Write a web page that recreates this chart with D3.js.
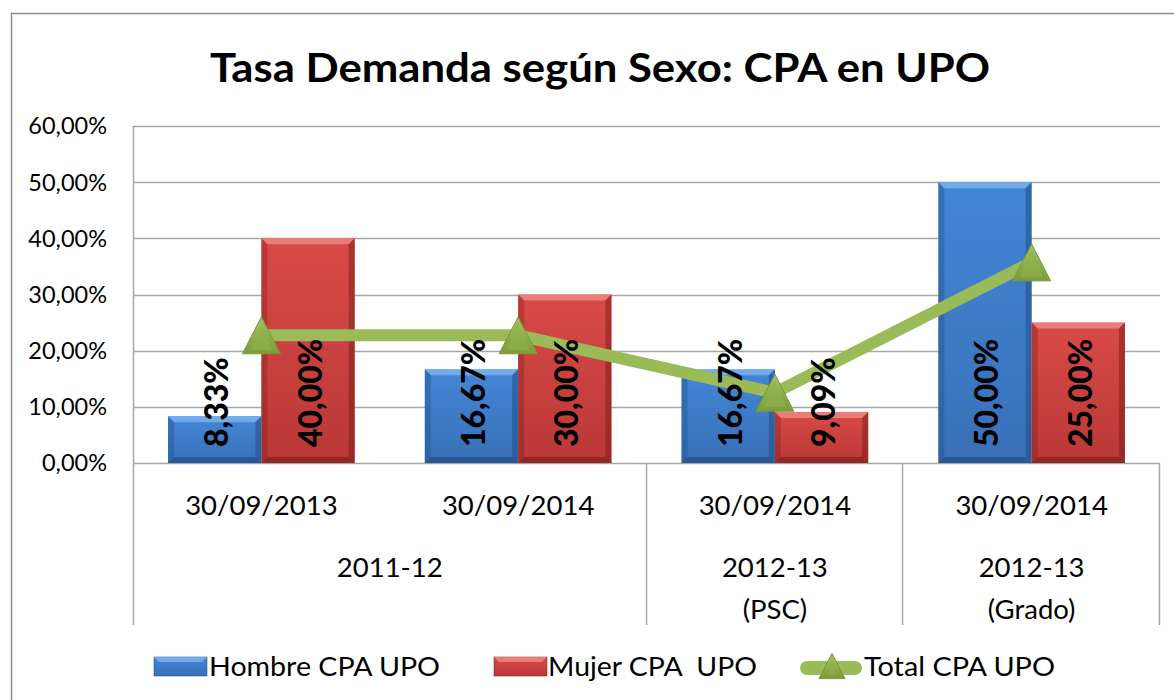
<!DOCTYPE html>
<html>
<head>
<meta charset="utf-8">
<script src="https://cdn.jsdelivr.net/npm/d3@7"></script>
<style>
  body { margin: 0; background: #fff; }
  svg text { font-family: Lato, "Open Sans", sans-serif; fill: #000; }
</style>
</head>
<body>
<div id="chart"></div>
<script>
// data
var dates = ["30/09/2013", "30/09/2014", "30/09/2014", "30/09/2014"];
var years = [
  {label: ["2011-12"], from: 0, to: 1},
  {label: ["2012-13", "(PSC)"], from: 2, to: 2},
  {label: ["2012-13", "(Grado)"], from: 3, to: 3}
];
var hombre = [0.0833, 0.1667, 0.1667, 0.50];
var mujer  = [0.40, 0.30, 0.0909, 0.25];
var total  = [0.2273, 0.2273, 0.125, 0.3571];
var yTicks = [0, 0.1, 0.2, 0.3, 0.4, 0.5, 0.6];
var seriesNames = ["Hombre CPA UPO", "Mujer CPA  UPO", "Total CPA UPO"];

var width = 1174, height = 700;
var margin = {top: 126, right: 14, bottom: 237, left: 133};

var svg = d3.select("#chart").append("svg")
    .attr("width", width)
    .attr("height", height);

var defs = svg.append("defs");
function grad(id, c1, c2) {
  var g = defs.append("linearGradient").attr("id", id)
      .attr("x1", 0).attr("y1", 0).attr("x2", 0).attr("y2", 1);
  g.append("stop").attr("offset", "0%").attr("stop-color", c1);
  g.append("stop").attr("offset", "100%").attr("stop-color", c2);
}
grad("gBlue", "#4386d6", "#3870b8");
grad("gRed", "#d94a47", "#b93836");
grad("gGreen", "#a3c462", "#7c9c3c");

// outer chart border
svg.append("path")
    .attr("d", "M11.5," + height + "V13.5H" + width)
    .attr("fill", "none")
    .attr("stroke", "#8c8c8c")
    .attr("stroke-width", 1.5);

// title
svg.append("text")
    .attr("x", 600).attr("y", 82)
    .attr("text-anchor", "middle")
    .style("font-size", "40px")
    .style("font-weight", "bold")
    .attr("textLength", 780)
    .attr("lengthAdjust", "spacingAndGlyphs")
    .text("Tasa Demanda según Sexo: CPA en UPO");

var x0 = d3.scaleBand()
    .domain(d3.range(dates.length))
    .range([margin.left, width - margin.right])
    .paddingInner(0.273)
    .paddingOuter(0.1365);

var x1 = d3.scaleBand()
    .domain([0, 1])
    .range([0, x0.bandwidth()]);

var y = d3.scaleLinear()
    .domain([0, 0.6])
    .range([height - margin.bottom, margin.top]);

var fmt = function(v) { return d3.format(".2f")(v * 100).replace(".", ",") + "%"; };

var plotL = margin.left, plotR = width - margin.right;
var step = x0.step();
var catBottom = 625;

// gridlines
svg.append("g").selectAll("line")
    .data(yTicks)
  .enter().append("line")
    .attr("x1", plotL).attr("x2", plotR)
    .attr("y1", function(d) { return Math.round(y(d)) + 0.5; })
    .attr("y2", function(d) { return Math.round(y(d)) + 0.5; })
    .attr("stroke", "#a6a6a6")
    .attr("stroke-width", 1.5);

// y tick labels
svg.append("g").selectAll("text")
    .data(yTicks)
  .enter().append("text")
    .attr("x", 107)
    .attr("y", function(d) { return y(d); })
    .attr("dy", "0.36em")
    .attr("text-anchor", "end")
    .style("font-size", "23.5px")
    .text(fmt);

// left axis + category separators
var seps = [0].concat(years.map(function(d) { return d.to + 1; }));
svg.append("line")
    .attr("x1", plotL + 0.5).attr("x2", plotL + 0.5)
    .attr("y1", y(0.6)).attr("y2", catBottom)
    .attr("stroke", "#a6a6a6").attr("stroke-width", 1.5);
svg.append("g").selectAll("line")
    .data(seps.slice(1))
  .enter().append("line")
    .attr("x1", function(d) { return Math.round(plotL + d * step) - 0.5; })
    .attr("x2", function(d) { return Math.round(plotL + d * step) - 0.5; })
    .attr("y1", y(0)).attr("y2", catBottom)
    .attr("stroke", "#a6a6a6").attr("stroke-width", 1.5);

// bars with bevel
var bev = 6;
function bevelBar(g, bx, bw, v, fillId, light, dark) {
  var xa = bx, xb = bx + bw, ya = y(v), yb = y(0);
  var b = Math.min(bev, (yb - ya) / 2);
  g.append("rect").attr("x", xa).attr("y", ya).attr("width", bw).attr("height", yb - ya)
      .attr("fill", "url(#" + fillId + ")");
  g.append("path").attr("fill", light).attr("opacity", 0.8)
      .attr("d", "M" + xa + "," + ya + "H" + xb + "L" + (xb - b) + "," + (ya + b) + "H" + (xa + b) + "Z");
  g.append("path").attr("fill", dark).attr("opacity", 0.35)
      .attr("d", "M" + xa + "," + ya + "L" + (xa + b) + "," + (ya + b) + "V" + (yb - b) + "L" + xa + "," + yb + "Z");
  g.append("path").attr("fill", dark).attr("opacity", 0.5)
      .attr("d", "M" + xb + "," + ya + "L" + (xb - b) + "," + (ya + b) + "V" + (yb - b) + "L" + xb + "," + yb + "Z");
  g.append("path").attr("fill", dark).attr("opacity", 0.6)
      .attr("d", "M" + xa + "," + yb + "H" + xb + "L" + (xb - b) + "," + (yb - b) + "H" + (xa + b) + "Z");
}

var bars = svg.append("g");
dates.forEach(function(d, i) {
  bevelBar(bars, x0(i) + x1(0), x1.bandwidth(), hombre[i], "gBlue", "#7fb3ef", "#1d4a82");
  bevelBar(bars, x0(i) + x1(1), x1.bandwidth(), mujer[i], "gRed", "#f08a86", "#7a1c1a");
});

// total line
var cx = function(i) { return x0(i) + x0.bandwidth() / 2; };
svg.append("path")
    .datum(total)
    .attr("fill", "none")
    .attr("stroke", "#9bbb59")
    .attr("stroke-width", 12)
    .attr("d", d3.line().x(function(d, i) { return cx(i); }).y(function(d) { return y(d); }));

function triangle(g, px, py, s) {
  var h = s * 0.97;
  g.append("path")
      .attr("d", "M" + px + "," + (py - h / 2) + "L" + (px + s / 2) + "," + (py + h / 2) + "L" + (px - s / 2) + "," + (py + h / 2) + "Z")
      .attr("fill", "url(#gGreen)")
      .attr("stroke", "#7a983c")
      .attr("stroke-width", 1);
  g.append("path")
      .attr("d", "M" + px + "," + (py - h / 2 + 6) + "L" + (px + s / 2 - 8) + "," + (py + h / 2 - 4) + "L" + (px - s / 2 + 8) + "," + (py + h / 2 - 4) + "Z")
      .attr("fill", "#8fb04b")
      .attr("opacity", 0.6);
}
var markers = svg.append("g");
total.forEach(function(v, i) { triangle(markers, cx(i), y(v), 38); });

// data labels (rotated, bottom-anchored)
var labels = svg.append("g");
dates.forEach(function(d, i) {
  [hombre[i], mujer[i]].forEach(function(v, k) {
    var lx = x0(i) + x1(k) + x1.bandwidth() / 2 + 2;
    var ly = y(0) - 16;
    labels.append("text")
        .attr("transform", "translate(" + lx + "," + ly + ") rotate(-90)")
        .attr("dy", "0.36em")
        .style("font-size", "32px")
        .style("font-weight", "900")
        .text(fmt(v));
  });
});

// category axis: dates row
svg.append("g").selectAll("text")
    .data(dates)
  .enter().append("text")
    .attr("x", function(d, i) { return cx(i); })
    .attr("y", 515)
    .attr("text-anchor", "middle")
    .style("font-size", "27.5px")
    .text(function(d) { return d; });

// category axis: year row
var yr = svg.append("g");
years.forEach(function(d) {
  var mx = (plotL + d.from * step + plotL + (d.to + 1) * step) / 2;
  d.label.forEach(function(t, j) {
    yr.append("text")
        .attr("x", mx)
        .attr("y", 577 + j * 42)
        .attr("text-anchor", "middle")
        .style("font-size", "27.5px")
        .text(t);
  });
});

// legend
var leg = svg.append("g");
var legX = [154, 494, 800];
var legY = 666;
function legBar(g, lx, fillId, light, dark) {
  g.append("rect").attr("x", lx).attr("y", legY - 9).attr("width", 53).attr("height", 19)
      .attr("fill", "url(#" + fillId + ")").attr("stroke", dark).attr("stroke-opacity", 0.5);
  g.append("path").attr("fill", light).attr("opacity", 0.8)
      .attr("d", "M" + lx + "," + (legY - 9) + "h53l-5,5h-43z");
}
legBar(leg, legX[0], "gBlue", "#7fb3ef", "#1d4a82");
legBar(leg, legX[1], "gRed", "#f08a86", "#7a1c1a");
leg.append("line")
    .attr("x1", legX[2] + 7).attr("x2", legX[2] + 55)
    .attr("y1", legY + 2).attr("y2", legY + 2)
    .attr("stroke", "#9bbb59").attr("stroke-width", 14)
    .attr("stroke-linecap", "round");
triangle(leg, legX[2] + 32, legY, 26);

var legText = [legX[0] + 55, legX[1] + 54, legX[2] + 64];
var legLen = [231, 209, 191];
seriesNames.forEach(function(n, i) {
  leg.append("text")
      .attr("x", legText[i])
      .attr("y", legY)
      .attr("dy", "0.36em")
      .style("font-size", "27.5px")
      .style("white-space", "pre")
      .attr("xml:space", "preserve")
      .attr("textLength", legLen[i])
      .attr("lengthAdjust", "spacingAndGlyphs")
      .text(n);
});
</script>
</body>
</html>
